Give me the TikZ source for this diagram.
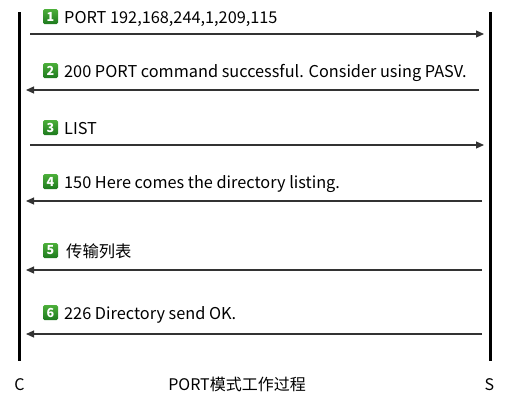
\documentclass[tikz,border=0pt]{standalone}
\usepackage{fontspec}
\setmainfont{Noto Sans CJK SC}
\usetikzlibrary{arrows.meta}
\definecolor{badgeTop}{HTML}{4CAF3A}
\definecolor{badgeBot}{HTML}{1E7A1E}
\definecolor{msgline}{HTML}{333333}
\tikzset{
  x=1pt, y=-1pt,
  life/.style={line width=3pt, black},
  msg/.style={line width=1.1pt, msgline, -{Triangle[length=8pt,width=7pt]}},
  badge/.style={rounded corners=1.5pt, minimum width=15pt, minimum height=15pt, inner sep=0pt,
     top color=badgeTop, bottom color=badgeBot, text=white, font=\fontsize{12.5}{12.5}\selectfont\bfseries},
  lbl/.style={anchor=base west, inner sep=0pt, font=\fontsize{16.3}{18}\selectfont},
  foot/.style={anchor=base, inner sep=0pt, font=\fontsize{16}{18}\selectfont},
}
\begin{document}
\begin{tikzpicture}
\useasboundingbox (0,0) rectangle (510,402);
\coordinate (c0) at (19.5,12);
\coordinate (c1) at (19.5,361);
\coordinate (s0) at (490.5,12);
\coordinate (s1) at (490.5,361);
\draw[life] (c0) -- (c1);
\draw[life] (s0) -- (s1);

% message 1
\node[badge] (b1) at (50.5,16.5) {1};
\node[lbl] (t1) at (64,23) {PORT 192,168,244,1,209,115};
\coordinate (m1a) at (30,34); \coordinate (m1b) at (484,34);
\draw[msg] (m1a) -- (m1b);
% message 2
\node[badge] (b2) at (50.5,70.5) {2};
\node[lbl] (t2) at (64,77) {200 PORT command successful. Consider using PASV.};
\coordinate (m2a) at (479,90); \coordinate (m2b) at (26,90);
\draw[msg] (m2a) -- (m2b);
% message 3
\node[badge] (b3) at (50.5,127.5) {3};
\node[lbl] (t3) at (64,134) {LIST};
\coordinate (m3a) at (30,145); \coordinate (m3b) at (484,145);
\draw[msg] (m3a) -- (m3b);
% message 4
\node[badge] (b4) at (50.5,181.5) {4};
\node[lbl] (t4) at (64,188) {150 Here comes the directory listing.};
\coordinate (m4a) at (482,201); \coordinate (m4b) at (26,201);
\draw[msg] (m4a) -- (m4b);
% message 5
\node[badge] (b5) at (50.5,250.5) {5};
\node[lbl] (t5) at (66,257) {传输列表};
\coordinate (m5a) at (482,270); \coordinate (m5b) at (26,270);
\draw[msg] (m5a) -- (m5b);
% message 6
\node[badge] (b6) at (50.5,312.5) {6};
\node[lbl] (t6) at (64,319) {226 Directory send OK.};
\coordinate (m6a) at (482,334); \coordinate (m6b) at (26,334);
\draw[msg] (m6a) -- (m6b);

\node[foot] (C) at (19.5,390) {C};
\node[foot] (title) at (237,390) {PORT模式工作过程};
\node[foot] (S) at (489.5,390) {S};
\end{tikzpicture}
\end{document}
